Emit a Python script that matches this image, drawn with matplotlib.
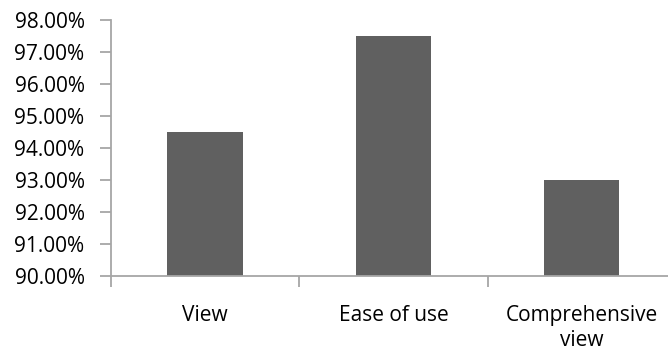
import numpy as np
import matplotlib.pyplot as plt
from matplotlib.ticker import PercentFormatter, FixedLocator

# Anteile pro Kategorie (in Prozent)
categories = ['View', 'Ease of use', 'Comprehensive\nview']
values = [94.5, 97.5, 93.0]

plt.rcParams['font.family'] = ['Open Sans', 'DejaVu Sans']

fig = plt.figure(figsize=(6.68, 3.51), dpi=100)
ax = fig.add_axes([111 / 668, 75 / 351, 565 / 668, 256 / 351])

x = np.arange(len(categories))
ax.bar(x, values, width=0.4, color='#606060')

ax.set_ylim(90, 98)
ax.set_xlim(-0.5, len(categories) - 0.5)
ax.set_yticks(np.arange(90, 98.5, 1))
ax.yaxis.set_major_formatter(PercentFormatter(decimals=2))

# Kategorienamen mittig, Teilstriche an den Grenzen
ax.set_xticks(x)
ax.set_xticklabels(categories, fontsize=15, color='#000000', linespacing=1.25)
ax.xaxis.set_minor_locator(FixedLocator(x - 0.5))
ax.tick_params(axis='x', which='major', length=0, pad=21)
ax.tick_params(axis='x', which='minor', length=8, color='#a6a6a6', width=1.3)
ax.tick_params(axis='y', length=8, color='#a6a6a6', width=1.3, labelsize=15, pad=11)

for side in ['top', 'right']:
    ax.spines[side].set_visible(False)
for side in ['left', 'bottom']:
    ax.spines[side].set_color('#a6a6a6')
    ax.spines[side].set_linewidth(1.3)

fig.savefig('out.png', dpi=100)
